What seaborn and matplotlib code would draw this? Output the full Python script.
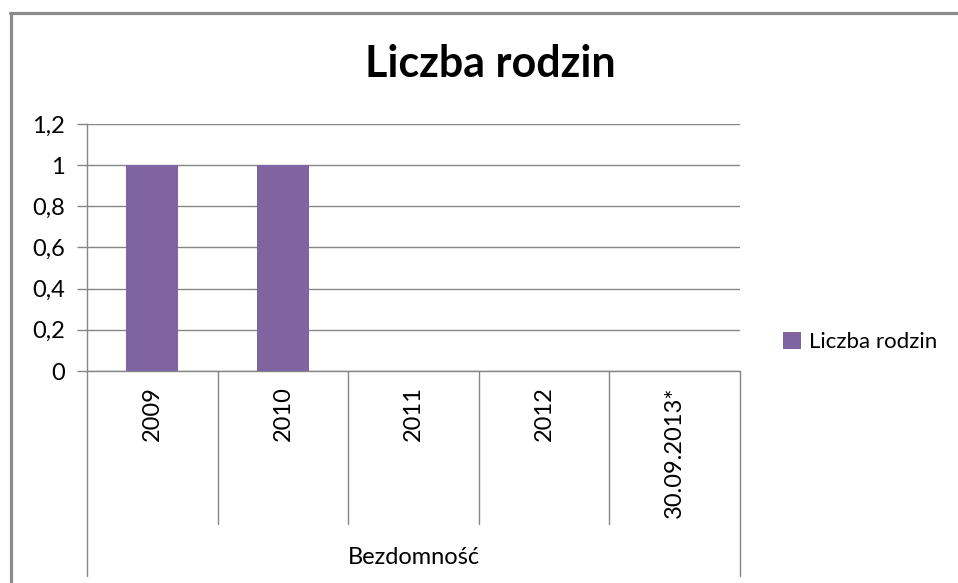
import matplotlib
matplotlib.use("Agg")
import matplotlib.pyplot as plt
import matplotlib.transforms as mtransforms
from matplotlib.lines import Line2D
import seaborn as sns
import pandas as pd

# data
categories = ["2009", "2010", "2011", "2012", "30.09.2013*"]
values = [1, 1, 0, 0, 0]
series_name = "Liczba rodzin"
group_label = "Bezdomność"
y_ticks = [0, 0.2, 0.4, 0.6, 0.8, 1.0, 1.2]
y_tick_labels = ["0", "0,2", "0,4", "0,6", "0,8", "1", "1,2"]

df = pd.DataFrame({"rok": categories, "wartosc": values, "seria": series_name})

sns.set_theme(style="white")
plt.rcParams["font.family"] = ["Lato", "DejaVu Sans"]
plt.rcParams["text.color"] = "black"
plt.rcParams["xtick.color"] = "black"
plt.rcParams["ytick.color"] = "black"

W, H = 958, 583
fig = plt.figure(figsize=(W / 100, H / 100), dpi=100)
ax = fig.add_axes([87 / W, (H - 371) / H, (740 - 87) / W, (371 - 124) / H])

grid_col = "#868686"
bar_col = "#8064A2"
fs = 17

sns.barplot(data=df, x="rok", y="wartosc", hue="seria", palette=[bar_col],
            width=0.4, ax=ax, saturation=1, zorder=3, linewidth=0, edgecolor="none")

ax.set_ylim(0, 1.2)
ax.set_xlim(-0.5, len(categories) - 0.5)
ax.set_yticks(y_ticks)
ax.set_yticklabels(y_tick_labels, fontsize=fs)
ax.yaxis.grid(True, color=grid_col, linewidth=1)
ax.set_axisbelow(True)
ax.tick_params(axis="y", length=7, color=grid_col, width=1, pad=9, left=True)
ax.tick_params(axis="x", length=0, pad=11, labelsize=fs)
for lbl in ax.get_xticklabels():
    lbl.set_rotation(90)
    lbl.set_va("top")
ax.set_xlabel("")
ax.set_ylabel("")
for s in ["top", "right"]:
    ax.spines[s].set_visible(False)
for s in ["left", "bottom"]:
    ax.spines[s].set_color(grid_col)
    ax.spines[s].set_linewidth(1)

# category divider lines under the axis
trans = mtransforms.blended_transform_factory(ax.transData, ax.transAxes)
inner_bottom = -(524 - 371) / (371 - 124)
outer_bottom = -(576 - 371) / (371 - 124)
n = len(categories)
for i in range(n + 1):
    xb = i - 0.5
    yb = outer_bottom if i in (0, n) else inner_bottom
    ax.plot([xb, xb], [0, yb], transform=trans, color=grid_col, lw=1, clip_on=False)

ax.text((n - 1) / 2, -(557 - 371) / (371 - 124), group_label, transform=trans,
        ha="center", va="center", fontsize=fs)

sns.move_legend(ax, "center left", bbox_to_anchor=(783 / W, (H - 342) / H),
                bbox_transform=fig.transFigure, title=None, frameon=False,
                fontsize=16, handlelength=0.8, handleheight=0.8, handletextpad=0.35,
                borderpad=0, borderaxespad=0)

fig.text(490 / W, 1 - 64 / H, "Liczba rodzin", ha="center", va="center",
         fontsize=31, fontweight="bold")

# outer chart border
bc = "#8c8c8c"
fig.add_artist(Line2D([10.5 / W, 10.5 / W], [0, 1 - 12.5 / H], color=bc, lw=2.3,
                      transform=fig.transFigure))
fig.add_artist(Line2D([9.5 / W, 1], [1 - 12.5 / H, 1 - 12.5 / H], color=bc, lw=2.3,
                      transform=fig.transFigure))

fig.savefig("out.png", dpi=100)
